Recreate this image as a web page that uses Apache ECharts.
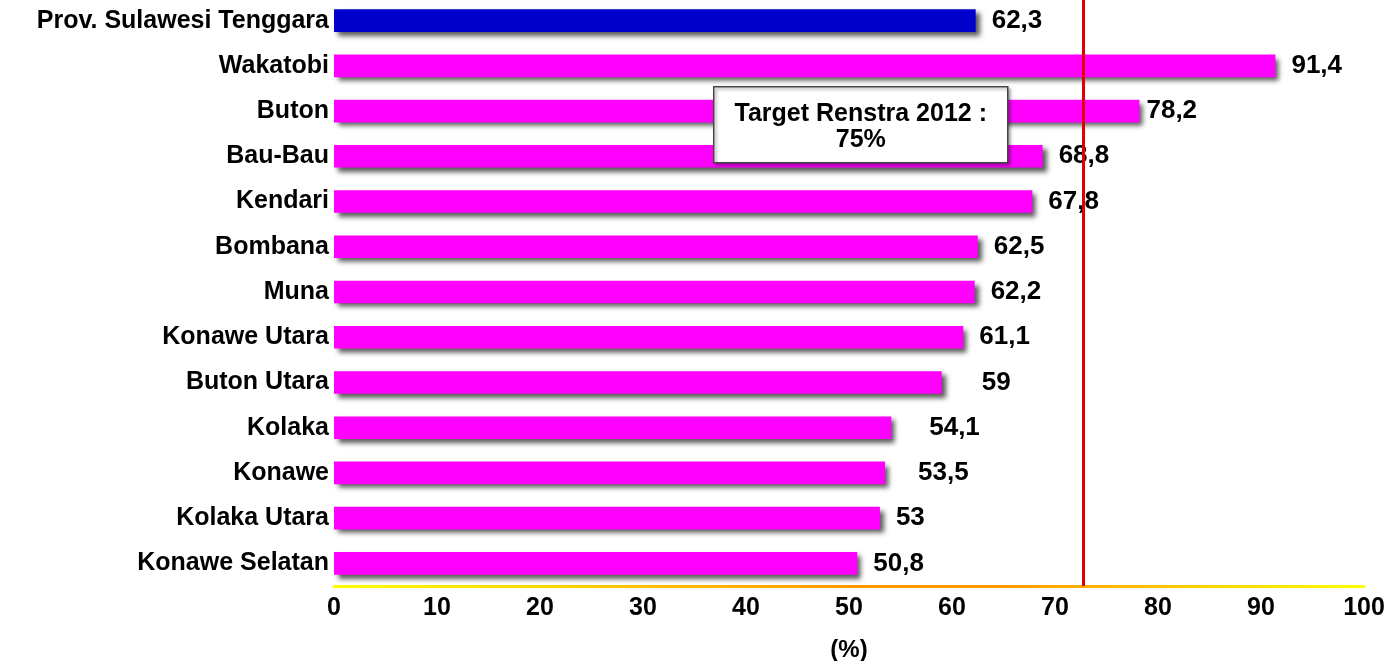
<!DOCTYPE html>
<html>
<head>
<meta charset="utf-8">
<script src="https://cdn.jsdelivr.net/npm/echarts@6/dist/echarts.min.js"></script>
<style>
html,body{margin:0;padding:0;background:#fff;}
#chart{width:1397px;height:661px;}
</style>
</head>
<body>
<div id="chart"></div>
<script>
const categories = ['Prov. Sulawesi Tenggara','Wakatobi','Buton','Bau-Bau','Kendari','Bombana','Muna','Konawe Utara','Buton Utara','Kolaka','Konawe','Kolaka Utara','Konawe Selatan'];
const values = [62.3, 91.4, 78.2, 68.8, 67.8, 62.5, 62.2, 61.1, 59, 54.1, 53.5, 53, 50.8];
const targetLine = 72.7;
const targetText = ['Target Renstra 2012 :', '75%'];
const xTicks = [0, 10, 20, 30, 40, 50, 60, 70, 80, 90, 100];

const FONT = 'Arial, "Liberation Sans", sans-serif';
const labelDist = {'Buton Utara': 40, 'Kolaka': 38, 'Konawe': 33, 'Buton': 7};

const chart = echarts.init(document.getElementById('chart'));
const seriesData = categories.map((c, i) => ({
  value: values[i],
  itemStyle: { color: i === 0 ? '#0000CD' : '#FF00FF' },
  label: { distance: labelDist[c] !== undefined ? labelDist[c] : 16 }
}));

chart.setOption({
  animation: false,
  backgroundColor: '#fff',
  grid: { left: 334, right: 33, top: -2, bottom: 75, containLabel: false, outerBoundsMode: 'none' },
  xAxis: {
    type: 'value', min: xTicks[0], max: xTicks[xTicks.length - 1], interval: 10,
    name: '(%)', nameLocation: 'middle', nameGap: 52,
    nameTextStyle: { fontFamily: FONT, fontWeight: 'bold', fontSize: 24, color: '#000' },
    axisLine: { show: true, lineStyle: { width: 3, color: new echarts.graphic.LinearGradient(0, 0, 1, 0, [
      { offset: 0, color: '#FFFF00' }, { offset: 0.5, color: '#FF9900' }, { offset: 0.65, color: '#FF9900' }, { offset: 1, color: '#FFFF00' }
    ]) } },
    axisTick: { show: false },
    splitLine: { show: false },
    axisLabel: { fontFamily: FONT, fontWeight: 'bold', fontSize: 25, color: '#000', margin: 10,
      formatter: v => String(v) }
  },
  yAxis: {
    type: 'category', data: categories, inverse: true,
    axisLine: { show: false }, axisTick: { show: false },
    axisLabel: { fontFamily: FONT, fontWeight: 'bold', fontSize: 25, color: '#000', margin: 5 }
  },
  series: [{
    type: 'bar', data: seriesData, barWidth: '50%',
    itemStyle: { shadowBlur: 5, shadowOffsetX: 4, shadowOffsetY: 4, shadowColor: 'rgba(0,0,0,0.65)' },
    label: { show: true, position: 'right', fontFamily: FONT, fontWeight: 'bold', fontSize: 26, color: '#000',
      formatter: p => String(p.value).replace('.', ',') },
    markLine: {
      silent: true, symbol: 'none', label: { show: false },
      lineStyle: { color: '#E00000', width: 3, type: 'solid' },
      data: [{ xAxis: targetLine }]
    }
  }],
  graphic: [{
    type: 'group', left: 713, top: 86, z: 100,
    children: [
      { type: 'rect', z: 100, shape: { x: 0, y: 0, width: 294, height: 76 },
        style: { fill: '#fff', stroke: '#444', lineWidth: 1.5, shadowBlur: 3, shadowOffsetX: 2, shadowOffsetY: 2, shadowColor: 'rgba(0,0,0,0.35)' } },
      { type: 'text', z: 101, x: 147, y: 27, style: { text: targetText[0], font: 'bold 25px ' + FONT, fill: '#000', align: 'center', verticalAlign: 'middle' } },
      { type: 'text', z: 101, x: 147, y: 53, style: { text: targetText[1], font: 'bold 25px ' + FONT, fill: '#000', align: 'center', verticalAlign: 'middle' } }
    ]
  }]
});
</script>
</body>
</html>
